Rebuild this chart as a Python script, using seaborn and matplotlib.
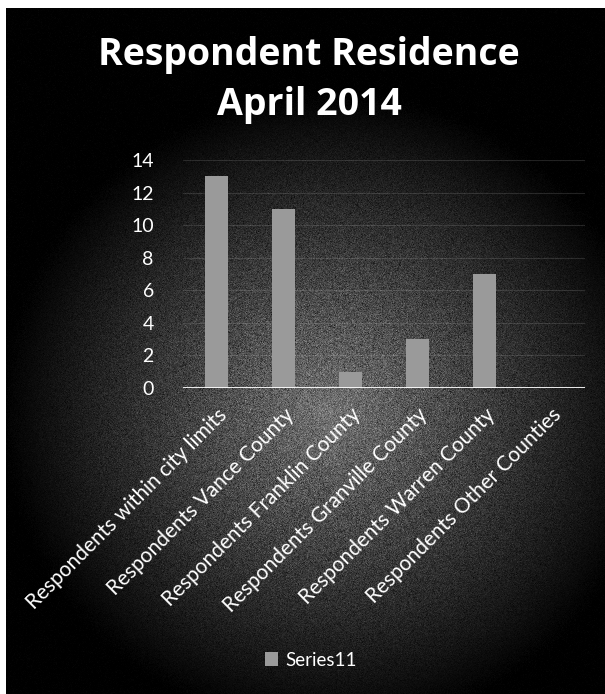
import numpy as np
import pandas as pd
import matplotlib
matplotlib.use("Agg")
import matplotlib.pyplot as plt
import seaborn as sns

categories = [
    "Respondents within city limits",
    "Respondents Vance County",
    "Respondents Franklin County",
    "Respondents Granville County",
    "Respondents Warren County",
    "Respondents Other Counties",
]
series11 = [13, 11, 1, 3, 7, 0]
yticks = [0, 2, 4, 6, 8, 10, 12, 14]
series_name = "Series11"
title = "Respondent Residence\nApril 2014"

sns.set_theme(style="dark")
plt.rcParams["font.family"] = ["Lato", "DejaVu Sans"]

W, H = 605, 694
fig = plt.figure(figsize=(W / 100, H / 100), dpi=100, facecolor="black")

# radial grey glow behind the chart, with a light paper margin top and left
bg = fig.add_axes([0, 0, 1, 1], zorder=-10)
yy, xx = np.mgrid[0:H, 0:W]
r = np.sqrt(((xx - 330) / 330) ** 2 + ((yy - 410) / 320) ** 2)
glow = np.clip(1 - r, 0, 1) * 0.45
rng = np.random.default_rng(3)
img = glow + rng.normal(0, 0.07, glow.shape) * np.clip(glow * 3, 0.12, 1)
img = np.clip(img, 0, 1)
img[:8, :] = 1.0
img[:, :6] = 1.0
bg.imshow(img, cmap="gray", vmin=0, vmax=1,
          extent=[0, W, H, 0], aspect="auto", interpolation="nearest")
bg.set_xlim(0, W)
bg.set_ylim(H, 0)
bg.set_axis_off()

ax = fig.add_axes([183 / W, 1 - 388 / H, (585 - 183) / W, (388 - 160) / H])
ax.patch.set_alpha(0)

df = pd.DataFrame({"category": categories, "value": series11})
sns.barplot(data=df, x="category", y="value", color="#9a9a9a",
            saturation=1, width=0.33, ax=ax, label=series_name,
            edgecolor="none")
if ax.get_legend() is not None:
    ax.get_legend().remove()

ax.set_ylim(0, 14)
ax.set_yticks(yticks)
ax.set_yticklabels([str(t) for t in yticks], color="white", fontsize=14)
ax.set_xticks(range(len(categories)))
ax.set_xticklabels(categories, rotation=45, ha="right",
                   rotation_mode="anchor", color="white", fontsize=15)
ax.tick_params(axis="x", pad=12, length=0)
ax.tick_params(axis="y", pad=21, length=0)
ax.set_xlabel("")
ax.set_ylabel("")
ax.grid(axis="y", color="#bbbbbb", alpha=0.18, linewidth=0.8)
ax.set_axisbelow(True)
for s in ax.spines.values():
    s.set_visible(False)
ax.axhline(0, color="white", linewidth=2, zorder=5)

fig.text(309 / W, 1 - 80 / H, title, ha="center", va="center",
         color="white", fontsize=27, fontweight="bold", linespacing=1.4,
         family=["Open Sans", "DejaVu Sans"])

handles, labels = ax.get_legend_handles_labels()
leg = fig.legend(handles, labels, loc="center",
                 bbox_to_anchor=(311 / W, 1 - 660 / H),
                 frameon=False, fontsize=13.5, handlelength=0.7,
                 handleheight=0.7, handletextpad=0.4)
for t in leg.get_texts():
    t.set_color("white")

fig.savefig("out.png", dpi=100, facecolor="black")
